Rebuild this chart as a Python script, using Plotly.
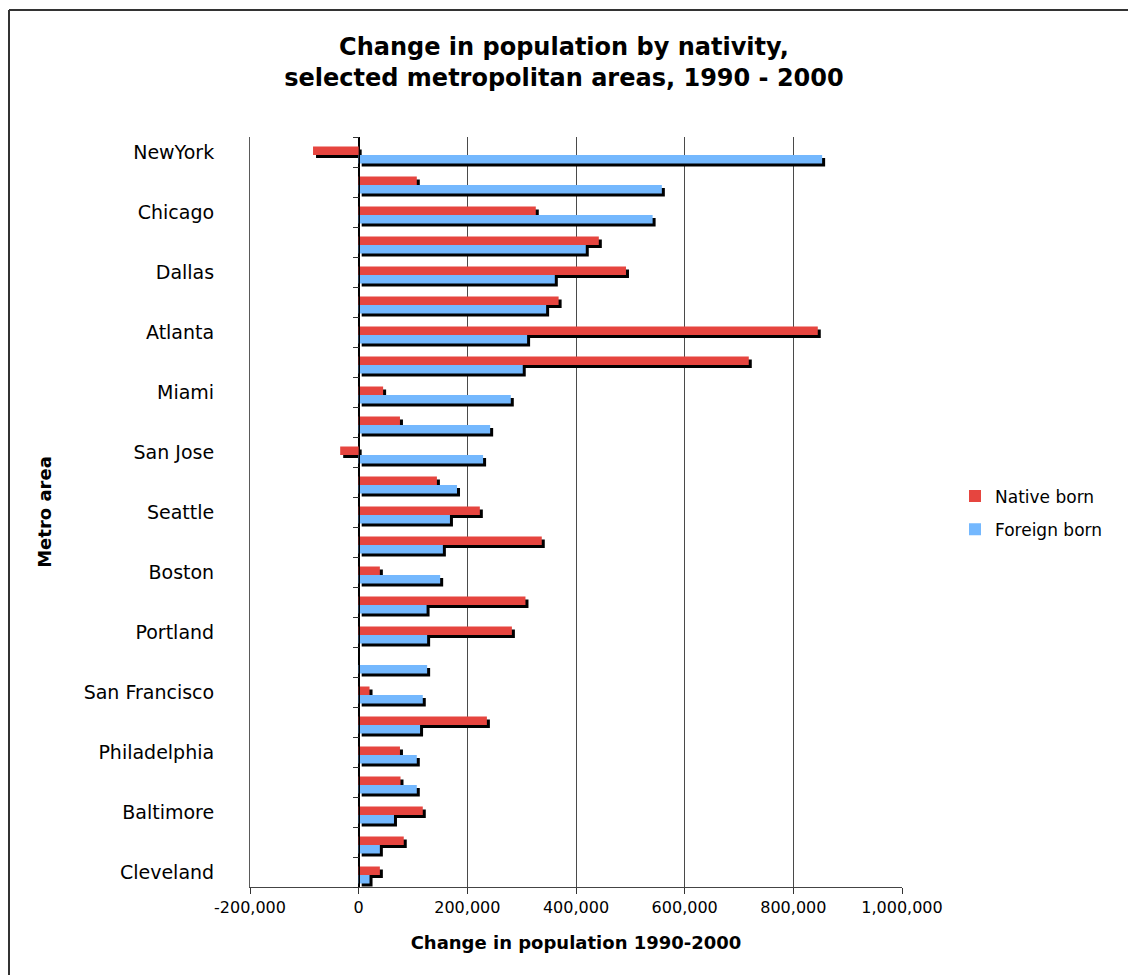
import plotly.graph_objects as go

# Metro areas, ordered by the increase in foreign-born residents
metros = [
    "NewYork", "Los Angeles", "Chicago", "Houston", "Dallas", "Washington",
    "Atlanta", "Phoenix", "Miami", "Riverside", "San Jose", "Las Vegas",
    "Seattle", "Denver", "Boston", "Minneapolis", "Portland", "Orange County",
    "San Francisco", "Orlando", "Philadelphia", "San Diego", "Baltimore",
    "Detroit", "Cleveland",
]

# Change in population 1990-2000
native_born = [
    -84000, 107000, 326000, 442000, 492000, 368000,
    845000, 718000, 45000, 76000, -34000, 144000,
    223000, 337000, 39000, 307000, 282000, 0,
    20000, 236000, 76000, 77000, 118000, 83000, 39000,
]
foreign_born = [
    853000, 558000, 541000, 418000, 361000, 345000,
    310000, 302000, 280000, 242000, 229000, 181000,
    168000, 155000, 150000, 125000, 126000, 126000,
    118000, 113000, 107000, 107000, 65000, 39000, 20000,
]

x_ticks = [-200000, 0, 200000, 400000, 600000, 800000, 1000000]
x_tick_text = ["-200,000", "0", "200,000", "400,000", "600,000", "800,000", "1,000,000"]

# Only every other metro is labelled on the axis
label_idx = list(range(0, len(metros), 2))
label_text = [metros[i] + " " for i in label_idx]

RED = "#E6453F"
BLUE = "#74B8FE"
FONT = "DejaVu Sans"

W, H = 1128, 975
L, R, T, B = 250, 226, 137, 88
plot_w = W - L - R
plot_h = H - T - B
x_range = [-200000, 1000000]
n = len(metros)
y_range = [n - 0.5, -0.5]

# drop shadow: a few pixels right and down
px_x = (x_range[1] - x_range[0]) / plot_w
px_y = n / plot_h
sx = 3 * px_x
sy = 3 * px_y
x_range_shadow = [x_range[0] - sx, x_range[1] - sx]
y_range_shadow = [y_range[0] - sy, y_range[1] - sy]

pos = list(range(n))
bar_w = 8.5 / 30
red_off = -5.5 / 30
blue_off = red_off + bar_w

fig = go.Figure()

# shadows on the base subplot (drawn first, underneath)
for vals, off in [(native_born, red_off), (foreign_born, blue_off)]:
    fig.add_trace(go.Bar(
        x=vals, y=pos, orientation="h", width=bar_w, offset=off,
        marker=dict(color="black", line=dict(width=0)),
        xaxis="x", yaxis="y", showlegend=False, hoverinfo="skip",
    ))

# coloured bars on the overlaying subplot
fig.add_trace(go.Bar(
    x=native_born, y=pos, orientation="h", width=bar_w, offset=red_off,
    marker=dict(color=RED, line=dict(width=0)), name="Native born",
    xaxis="x2", yaxis="y2", legendgroup="a",
))
fig.add_trace(go.Bar(
    x=foreign_born, y=pos, orientation="h", width=bar_w, offset=blue_off,
    marker=dict(color=BLUE, line=dict(width=0)), name="Foreign born",
    xaxis="x2", yaxis="y2", legendgroup="b",
))
# empty trace carrying the category axis drawn along the zero line
fig.add_trace(go.Bar(x=[], y=[], xaxis="x2", yaxis="y3",
                     showlegend=False, hoverinfo="skip"))

zero_frac = (0 - x_range[0]) / (x_range[1] - x_range[0])

fig.update_layout(
    width=W, height=H,
    margin=dict(l=L, r=R, t=T, b=B),
    paper_bgcolor="white", plot_bgcolor="white",
    barmode="overlay",
    font=dict(family=FONT, color="black"),
    title=dict(
        text="<b>Change in population by nativity,<br>selected metropolitan areas, 1990 - 2000</b>",
        x=0.5, xanchor="center", y=1 - 55 / H, yanchor="middle",
        font=dict(family=FONT, size=24, color="black"),
    ),
    xaxis=dict(range=x_range_shadow, visible=False),
    yaxis=dict(range=y_range_shadow, visible=False),
    xaxis2=dict(
        range=x_range, overlaying="x", anchor="y2", side="bottom",
        tickvals=x_ticks, ticktext=x_tick_text,
        showgrid=True, gridcolor="#4a4a4a", gridwidth=1,
        zeroline=True, zerolinecolor="black", zerolinewidth=1,
        showline=True, linecolor="#444", linewidth=1,
        ticks="outside", ticklen=6, tickcolor="#333",
        tickfont=dict(size=16),
        title=dict(text="<b>Change in population 1990-2000</b>",
                   font=dict(size=18), standoff=20),
    ),
    yaxis2=dict(
        range=y_range, overlaying="y", anchor="x2", side="left",
        tickvals=label_idx, ticktext=label_text,
        showgrid=False, zeroline=False,
        showline=True, linecolor="#5a5a5a", linewidth=1, ticks="",
        tickfont=dict(size=19), ticklabelstandoff=25,
        title=dict(text="<b>Metro area</b>", font=dict(size=18), standoff=27),
    ),
    yaxis3=dict(
        range=y_range, overlaying="y", anchor="free", position=zero_frac,
        side="left",
        tickvals=[i - 0.5 for i in range(n + 1)], showticklabels=False,
        ticks="outside", ticklen=6, tickcolor="#333",
        showline=True, linecolor="black", linewidth=1,
        showgrid=False, zeroline=False,
    ),
    legend=dict(
        xref="container", yref="container",
        x=955 / W, y=1 - 513 / H, xanchor="left", yanchor="middle",
        font=dict(size=17), tracegroupgap=8, traceorder="grouped",
        bgcolor="rgba(0,0,0,0)",
    ),
    shapes=[
        dict(type="line", xref="paper", yref="paper",
             x0=(9 - L) / plot_w, x1=(W + 5 - L) / plot_w,
             y0=(H - B - 10) / plot_h, y1=(H - B - 10) / plot_h,
             line=dict(color="#333", width=2)),
        dict(type="line", xref="paper", yref="paper",
             x0=(9 - L) / plot_w, x1=(9 - L) / plot_w,
             y0=(H - B - 10) / plot_h, y1=(-B - 5) / plot_h,
             line=dict(color="#333", width=2)),
    ],
)

fig.write_html("out.html")
